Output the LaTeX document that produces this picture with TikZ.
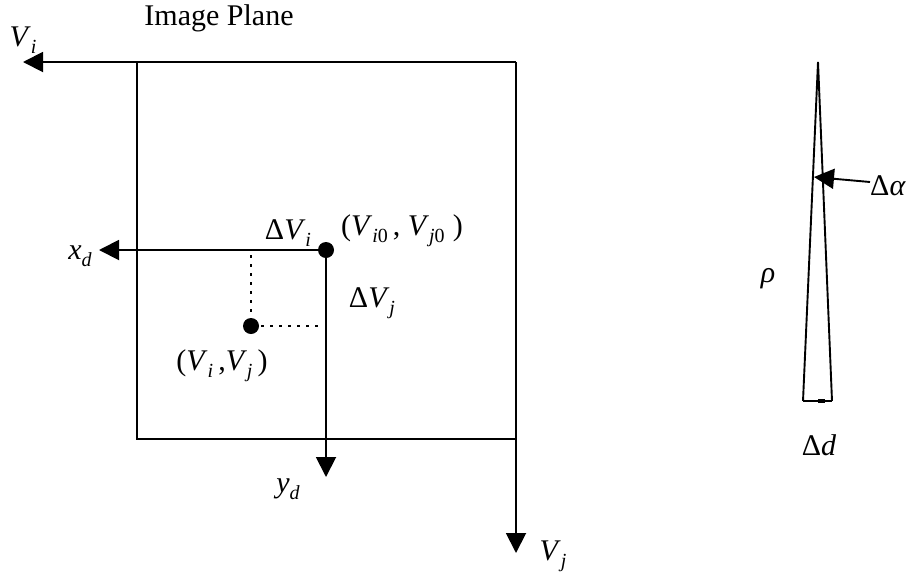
\documentclass[tikz,border=0pt]{standalone}
\usepackage{fontspec}
\setmainfont{Liberation Serif}
\usetikzlibrary{arrows.meta}
\newcommand\mvar[1]{\textit{#1}}
\newcommand\msub[1]{\raisebox{-7pt}{\fontsize{20}{22}\selectfont\textit{#1}}}
\newcommand\msubz[1]{\raisebox{-7pt}{\fontsize{20}{22}\selectfont\textit{#1}\textup{0}}}
\begin{document}
\begin{tikzpicture}[x=1pt,y=-1pt, line width=1.9pt,
  ar/.style={-{Triangle[length=20pt,width=20pt]}},
  lbl/.style={font=\fontsize{30}{33}\selectfont, inner sep=0pt},
  dots/.style={dash pattern=on 2.5pt off 6.5pt}]
\useasboundingbox (0,0) rectangle (912,571);
% image plane axes and frame
\coordinate (tl) at (137,62);
\coordinate (tr) at (516,62);
\coordinate (br) at (516,439);
\coordinate (bl) at (137,439);
\coordinate (vi) at (23,62);
\coordinate (vj) at (516,553);
\draw[ar] (tr) -- (vi);
\draw[ar] (tr) -- (vj);
\draw (tl) -- (bl) -- (br);
% local axes
\coordinate (o) at (326,250);
\coordinate (p) at (251,326);
\coordinate (xd) at (99,250);
\coordinate (yd) at (326,477);
\coordinate (pu) at (251,255);
\coordinate (pr) at (323,326);
\draw[ar] (o) -- (xd);
\draw[ar] (o) -- (yd);
\draw[dots] (pu) -- (p) -- (pr);
\fill (o) circle (8pt);
\fill (p) circle (8pt);
% labels
\node[lbl] (title) at (219,18) {Image Plane};
\node[lbl] (lvi) at (23,40) {\mvar{V}\msub{i}};
\node[lbl] (lxd) at (80,256) {\mvar{x}\msub{d}};
\node[lbl] (ldvi) at (288,233) {Δ\mvar{V}\msub{i}};
\node[lbl] (lo) at (402,231) {(\mvar{V}\msubz{i}\,, \mvar{V}\msubz{j}\;)};
\node[lbl] (ldvj) at (372,303) {Δ\mvar{V}\msub{j}};
\node[lbl] (lp) at (222,366) {(\mvar{V}\msub{i}\,,\mvar{V}\msub{j}\,)};
\node[lbl] (lyd) at (288,489) {\mvar{y}\msub{d}};
\node[lbl] (lvj) at (553,556) {\mvar{V}\msub{j}};
% right figure
\coordinate (apex) at (818,62);
\coordinate (bl2) at (803,401);
\coordinate (br2) at (832,401);
\draw (bl2) -- (apex);
\draw (br2) -- (apex);
\draw (bl2) -- (br2);
\coordinate (m1) at (818,401);
\coordinate (m2) at (825,401);
\draw[line width=3.5pt] (m1) -- (m2);
\coordinate (aa) at (870,182);
\coordinate (at) at (814,177);
\draw[ar] (aa) -- (at);
\node[lbl] (lalpha) at (888,186) {Δ\textit{α}};
\node[lbl] (lrho) at (768,279) {\textit{ρ}};
\node[lbl] (ldd) at (819,445) {Δ\textit{d}};
\end{tikzpicture}
\end{document}
